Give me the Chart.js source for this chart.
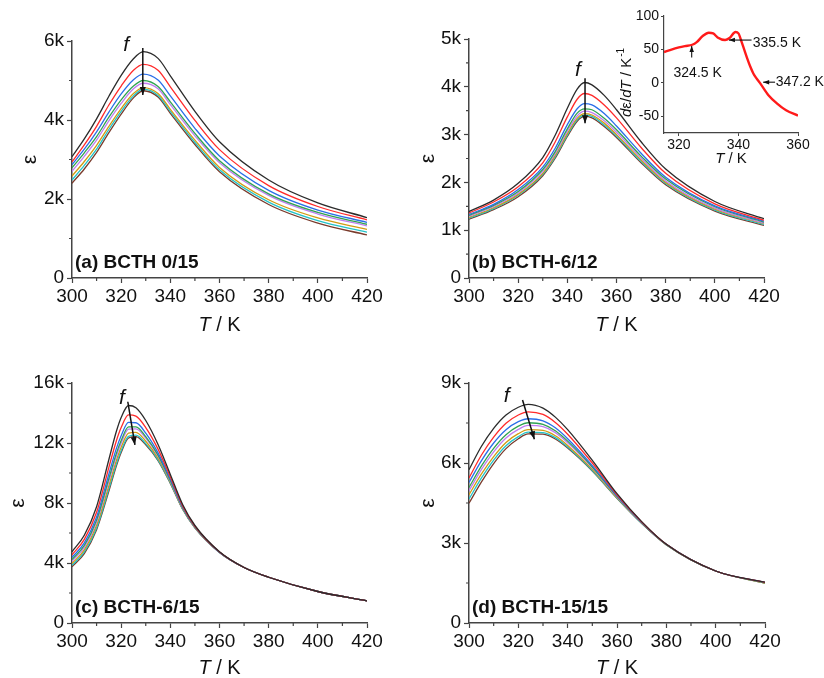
<!DOCTYPE html>
<html>
<head>
<meta charset="utf-8">
<script src="https://cdn.jsdelivr.net/npm/chart.js@4.4.1/dist/chart.umd.min.js"></script>
<style>
  body { margin: 0; background: #fff; }
  canvas { position: absolute; }
</style>
</head>
<body>
<canvas id="pa" width="412" height="339" style="left:0;top:0"></canvas>
<canvas id="pb" width="412" height="339" style="left:412px;top:0"></canvas>
<canvas id="pc" width="412" height="339" style="left:0;top:339px"></canvas>
<canvas id="pd" width="412" height="339" style="left:412px;top:339px"></canvas>
<canvas id="pi" width="234" height="175" style="left:590px;top:0"></canvas>
<script>
// eps values in thousands, one array per measuring frequency (black = lowest f, brown = highest f)

// (a) BCTH 0/15
const tA = [300, 305, 310, 315, 320, 325, 329, 335, 340, 350, 360, 380, 400, 420];
const aBlack  = [3.07, 3.52, 4.03, 4.60, 5.13, 5.55, 5.73, 5.56, 5.12, 4.22, 3.45, 2.48, 1.90, 1.53];
const aRed    = [2.94, 3.37, 3.84, 4.38, 4.86, 5.26, 5.41, 5.26, 4.84, 3.99, 3.25, 2.34, 1.81, 1.47];
const aBlue   = [2.87, 3.26, 3.70, 4.20, 4.66, 5.02, 5.16, 5.01, 4.61, 3.79, 3.09, 2.22, 1.72, 1.41];
const aGreen  = [2.79, 3.17, 3.58, 4.07, 4.51, 4.86, 5.00, 4.85, 4.46, 3.66, 2.97, 2.13, 1.66, 1.36];
const aViolet = [2.70, 3.08, 3.49, 3.98, 4.42, 4.79, 4.93, 4.79, 4.39, 3.60, 2.92, 2.09, 1.62, 1.32];
const aOrange = [2.58, 2.95, 3.36, 3.84, 4.29, 4.67, 4.82, 4.67, 4.27, 3.49, 2.80, 1.98, 1.52, 1.23];
const aCyan   = [2.48, 2.85, 3.26, 3.76, 4.22, 4.61, 4.78, 4.62, 4.22, 3.43, 2.74, 1.92, 1.45, 1.16];
const aBrown  = [2.40, 2.76, 3.18, 3.68, 4.15, 4.56, 4.74, 4.58, 4.17, 3.38, 2.69, 1.86, 1.39, 1.09];

// (b) BCTH-6/12
const tB = [300, 310, 320, 330, 335, 340, 344, 347, 350, 355, 360, 370, 380, 400, 420];
const bBlack  = [1.39, 1.63, 1.98, 2.52, 2.98, 3.55, 3.95, 4.09, 4.04, 3.82, 3.52, 2.85, 2.28, 1.60, 1.24];
const bRed    = [1.36, 1.59, 1.91, 2.41, 2.84, 3.37, 3.74, 3.86, 3.82, 3.62, 3.35, 2.73, 2.19, 1.55, 1.21];
const bBlue   = [1.33, 1.54, 1.85, 2.32, 2.71, 3.21, 3.54, 3.65, 3.62, 3.44, 3.18, 2.61, 2.11, 1.51, 1.19];
const bGreen  = [1.31, 1.52, 1.81, 2.27, 2.64, 3.12, 3.45, 3.54, 3.52, 3.34, 3.10, 2.55, 2.07, 1.49, 1.17];
const bViolet = [1.29, 1.50, 1.78, 2.23, 2.60, 3.07, 3.39, 3.49, 3.46, 3.29, 3.05, 2.51, 2.03, 1.46, 1.15];
const bOrange = [1.27, 1.47, 1.75, 2.19, 2.56, 3.02, 3.34, 3.44, 3.41, 3.24, 3.00, 2.47, 2.00, 1.44, 1.14];
const bCyan   = [1.25, 1.45, 1.73, 2.17, 2.53, 2.99, 3.31, 3.41, 3.38, 3.20, 2.97, 2.44, 1.98, 1.42, 1.12];
const bBrown  = [1.23, 1.43, 1.70, 2.14, 2.50, 2.96, 3.28, 3.38, 3.35, 3.17, 2.94, 2.41, 1.95, 1.40, 1.10];

// (c) BCTH-6/15
const tC = [300, 305, 310, 315, 318, 320, 323, 326, 330, 335, 340, 345, 350, 360, 370, 380, 400, 420];
const cBlack  = [4.75, 5.85, 7.75, 10.90, 12.75, 13.70, 14.50, 14.35, 13.50, 11.90, 9.90, 7.90, 6.50, 4.75, 3.70, 3.05, 2.10, 1.48];
const cRed    = [4.55, 5.57, 7.38, 10.38, 12.12, 13.03, 13.87, 13.79, 13.03, 11.59, 9.73, 7.81, 6.45, 4.74, 3.70, 3.05, 2.10, 1.48];
const cBlue   = [4.37, 5.34, 7.07, 9.93, 11.61, 12.49, 13.37, 13.35, 12.66, 11.34, 9.59, 7.73, 6.42, 4.72, 3.70, 3.05, 2.10, 1.48];
const cGreen  = [4.23, 5.17, 6.86, 9.63, 11.28, 12.16, 13.07, 13.08, 12.43, 11.19, 9.51, 7.69, 6.39, 4.72, 3.70, 3.05, 2.10, 1.48];
const cViolet = [4.11, 5.04, 6.71, 9.44, 11.10, 11.99, 12.92, 12.94, 12.32, 11.12, 9.47, 7.67, 6.38, 4.71, 3.70, 3.05, 2.10, 1.48];
const cOrange = [3.97, 4.87, 6.51, 9.16, 10.81, 11.71, 12.66, 12.71, 12.12, 10.99, 9.40, 7.63, 6.36, 4.71, 3.70, 3.05, 2.10, 1.48];
const cCyan   = [3.85, 4.74, 6.34, 8.94, 10.58, 11.48, 12.44, 12.52, 11.96, 10.88, 9.34, 7.60, 6.35, 4.70, 3.70, 3.05, 2.10, 1.48];
const cBrown  = [3.75, 4.63, 6.22, 8.79, 10.44, 11.36, 12.33, 12.42, 11.88, 10.83, 9.31, 7.58, 6.34, 4.70, 3.70, 3.05, 2.10, 1.48];

// (d) BCTH-15/15
const tD = [300, 305, 310, 315, 320, 324, 330, 335, 340, 350, 360, 370, 380, 400, 420];
const dBlack  = [5.75, 6.62, 7.30, 7.80, 8.09, 8.20, 8.06, 7.72, 7.25, 6.10, 4.85, 3.80, 2.95, 1.95, 1.53];
const dRed    = [5.44, 6.29, 6.97, 7.49, 7.80, 7.92, 7.82, 7.52, 7.08, 6.00, 4.81, 3.79, 2.95, 1.95, 1.52];
const dBlue   = [5.27, 6.08, 6.75, 7.25, 7.55, 7.66, 7.58, 7.32, 6.91, 5.90, 4.77, 3.77, 2.95, 1.95, 1.52];
const dGreen  = [5.08, 5.88, 6.55, 7.06, 7.38, 7.51, 7.45, 7.21, 6.82, 5.85, 4.75, 3.76, 2.94, 1.95, 1.51];
const dViolet = [4.96, 5.75, 6.42, 6.94, 7.26, 7.41, 7.36, 7.14, 6.76, 5.82, 4.73, 3.76, 2.94, 1.95, 1.51];
const dOrange = [4.81, 5.58, 6.24, 6.77, 7.10, 7.25, 7.22, 7.02, 6.66, 5.76, 4.70, 3.75, 2.94, 1.95, 1.50];
const dCyan   = [4.65, 5.43, 6.11, 6.65, 6.99, 7.16, 7.14, 6.95, 6.60, 5.72, 4.69, 3.74, 2.94, 1.95, 1.50];
const dBrown  = [4.49, 5.28, 5.98, 6.54, 6.91, 7.09, 7.08, 6.90, 6.56, 5.70, 4.68, 3.74, 2.94, 1.95, 1.50];

// inset: d(eps)/dT of BCTH-6/12
const insetT = [315, 317, 320, 322, 324.5, 326, 328, 330, 331.5, 333, 335.5, 337, 339, 340, 341, 342, 343, 344, 345, 346, 347.2, 350, 353, 356, 360];
const insetD = [46, 49, 53, 55, 57, 61, 70, 75, 74, 68, 64, 67, 76, 74, 62, 49, 36, 24, 14, 7, 0, -18, -31, -41, -49];

const lineColors = ['#2b2b2b', '#ff2a2a', '#2a6ee8', '#2fa352', '#c07ef0', '#d19b14', '#22c3c8', '#7a3b2c'];
const FONT = '"Liberation Sans", Arial, sans-serif';

function arrow(ctx, x1, y1, x2, y2, head) {
    ctx.beginPath();
    ctx.moveTo(x1, y1);
    ctx.lineTo(x2, y2);
    ctx.stroke();
    const a = Math.atan2(y2 - y1, x2 - x1);
    const c = Math.cos(a), s = Math.sin(a);
    ctx.beginPath();
    ctx.moveTo(x2, y2);
    ctx.lineTo(x2 - head * c + head * 0.38 * s, y2 - head * s - head * 0.38 * c);
    ctx.lineTo(x2 - head * c - head * 0.38 * s, y2 - head * s + head * 0.38 * c);
    ctx.closePath();
    ctx.fill();
}

// draws titles, minor ticks, panel labels and arrows
const decor = {
    id: 'decor',
    afterDraw(chart, args, o) {
        if (!o || !o.kind) return;
        const ctx = chart.ctx, ca = chart.chartArea;
        const sx = chart.scales.x, sy = chart.scales.y;
        const px = v => sx.getPixelForValue(v);
        const py = v => sy.getPixelForValue(v);
        ctx.save();
        ctx.fillStyle = '#111';
        ctx.strokeStyle = '#111';
        ctx.textBaseline = 'middle';

        if (o.kind === 'main') {
            /* minor ticks */
            ctx.strokeStyle = '#444';
            ctx.lineWidth = 1.2;
            ctx.beginPath();
            for (let v = 310; v < 420; v += 20) {
                ctx.moveTo(px(v), ca.bottom);
                ctx.lineTo(px(v), ca.bottom + 3);
            }
            for (let v = o.yStep / 2; v < o.yMax; v += o.yStep) {
                ctx.moveTo(ca.left, py(v));
                ctx.lineTo(ca.left - 3, py(v));
            }
            ctx.stroke();

            /* x title: T / K */
            ctx.fillStyle = '#111';
            ctx.font = 'italic 20px ' + FONT;
            const w1 = ctx.measureText('T').width;
            ctx.font = '20px ' + FONT;
            const w2 = ctx.measureText(' / K').width;
            const x0 = (ca.left + ca.right) / 2 - (w1 + w2) / 2;
            const ty = ca.bottom + o.xGap;
            ctx.textAlign = 'left';
            ctx.font = 'italic 20px ' + FONT;
            ctx.fillText('T', x0, ty);
            ctx.font = '20px ' + FONT;
            ctx.fillText(' / K', x0 + w1, ty);

            /* y title: epsilon */
            ctx.save();
            ctx.translate(ca.left - o.epsGap, (ca.top + ca.bottom) / 2);
            ctx.rotate(-Math.PI / 2);
            ctx.textAlign = 'center';
            ctx.font = '21px ' + FONT;
            ctx.fillText('ε', 0, 0);
            ctx.restore();

            /* panel label */
            ctx.textAlign = 'left';
            ctx.textBaseline = 'alphabetic';
            ctx.font = 'bold 19px ' + FONT;
            ctx.fillText(o.label, ca.left + 3, ca.bottom - 10);

            /* f arrow */
            ctx.textAlign = 'center';
            ctx.textBaseline = 'middle';
            ctx.font = 'italic 21px ' + FONT;
            ctx.fillText('f', px(o.f[0]), py(o.f[1]));
            ctx.lineWidth = 1.5;
            ctx.strokeStyle = '#111';
            arrow(ctx, px(o.arr[0]), py(o.arr[1]), px(o.arr[2]), py(o.arr[3]), 8);
        } else {
            /* inset titles */
            ctx.textAlign = 'left';
            ctx.font = 'italic 15px ' + FONT;
            const wT = ctx.measureText('T').width;
            ctx.font = '15px ' + FONT;
            const wK = ctx.measureText(' / K').width;
            const xs = (ca.left + ca.right) / 2 - (wT + wK) / 2;
            ctx.font = 'italic 15px ' + FONT;
            ctx.fillText('T', xs, ca.bottom + 26);
            ctx.font = '15px ' + FONT;
            ctx.fillText(' / K', xs + wT, ca.bottom + 26);

            const parts = [['d', 'italic 15px '], ['ε', '15px '], ['/', '15px '], ['d', 'italic 15px '],
                           ['T', 'italic 15px '], [' / K', '15px ']];
            let total = 0;
            parts.forEach(p => { ctx.font = p[1] + FONT; total += ctx.measureText(p[0]).width; });
            ctx.font = '10px ' + FONT;
            const wSup = ctx.measureText('-1').width;
            total += wSup;
            ctx.save();
            ctx.translate(ca.left - 37, ca.top + 67);
            ctx.rotate(-Math.PI / 2);
            let cx = -total / 2;
            parts.forEach(p => {
                ctx.font = p[1] + FONT;
                ctx.fillText(p[0], cx, 0);
                cx += ctx.measureText(p[0]).width;
            });
            ctx.font = '10px ' + FONT;
            ctx.fillText('-1', cx + 1, -6);
            ctx.restore();

            /* annotations */
            ctx.lineWidth = 1.1;
            ctx.font = '14px ' + FONT;
            arrow(ctx, px(324.3), py(38), px(324.3), py(55), 6);
            ctx.fillText('324.5 K', px(318.2), py(14));
            arrow(ctx, px(344.4), py(64), px(336.8), py(64), 6);
            ctx.fillText('335.5 K', px(344.8), py(60));
            arrow(ctx, px(352.3), py(1), px(348.3), py(1), 6);
            ctx.fillText('347.2 K', px(352.5), py(1));
        }
        ctx.restore();
    }
};
Chart.register(decor);

function lineSets(temps, seriesList) {
    return seriesList.map((vals, i) => ({
        data: vals.map((v, k) => ({ x: temps[k], y: v })),
        borderColor: lineColors[i],
        borderWidth: 1.3,
        pointRadius: 0,
        cubicInterpolationMode: 'monotone',
        fill: false
    }));
}

function makePanel(id, temps, seriesList, p) {
    new Chart(document.getElementById(id), {
        type: 'line',
        data: { datasets: lineSets(temps, seriesList) },
        options: {
            responsive: false,
            animation: false,
            layout: { padding: p.pad },
            plugins: {
                legend: { display: false },
                tooltip: { enabled: false },
                decor: {
                    kind: 'main', label: p.label, yStep: p.yStep, yMax: p.yMax,
                    xGap: p.xGap, epsGap: p.epsGap, f: p.f, arr: p.arr
                }
            },
            scales: {
                x: {
                    type: 'linear', min: 300, max: 420,
                    ticks: { stepSize: 20, maxRotation: 0, color: '#111', padding: 2, font: { family: FONT, size: 19 } },
                    grid: { drawOnChartArea: false, tickLength: 5, color: '#444', tickWidth: 1.2 },
                    border: { color: '#444', width: 1.5 },
                    afterFit: s => { s.height = p.xh; }
                },
                y: {
                    min: 0, max: p.yMax,
                    ticks: {
                        stepSize: p.yStep, color: '#111', padding: 3, font: { family: FONT, size: 19 },
                        callback: v => v === 0 ? '0' : v + 'k'
                    },
                    grid: { drawOnChartArea: false, tickLength: 5, color: '#444', tickWidth: 1.2 },
                    border: { color: '#444', width: 1.5 },
                    afterFit: s => { s.width = p.yw; }
                }
            }
        }
    });
}

makePanel('pa', tA, [aBlack, aRed, aBlue, aGreen, aViolet, aOrange, aCyan, aBrown], {
    pad: { left: 0, top: 41, right: 45, bottom: 0 }, yw: 72, xh: 61,
    yMax: 6, yStep: 2, label: '(a) BCTH 0/15', xGap: 47, epsGap: 42,
    f: [322, 5.9], arr: [328.8, 5.82, 328.8, 4.63]
});
makePanel('pb', tB, [bBlack, bRed, bBlue, bGreen, bViolet, bOrange, bCyan, bBrown], {
    pad: { left: 0, top: 39, right: 60, bottom: 0 }, yw: 57, xh: 61,
    yMax: 5, yStep: 1, label: '(b) BCTH-6/12', xGap: 47, epsGap: 41,
    f: [344.3, 4.35], arr: [347.2, 4.18, 347.2, 3.24]
});
makePanel('pc', tC, [cBlack, cRed, cBlue, cGreen, cViolet, cOrange, cCyan, cBrown], {
    pad: { left: 0, top: 44, right: 45, bottom: 0 }, yw: 72, xh: 55,
    yMax: 16, yStep: 4, label: '(c) BCTH-6/15', xGap: 45, epsGap: 54,
    f: [320.3, 15.0], arr: [322.7, 14.75, 325.6, 11.87]
});
makePanel('pd', tD, [dBlack, dRed, dBlue, dGreen, dViolet, dOrange, dCyan, dBrown], {
    pad: { left: 0, top: 44, right: 59, bottom: 0 }, yw: 57, xh: 55,
    yMax: 9, yStep: 3, label: '(d) BCTH-15/15', xGap: 45, epsGap: 41,
    f: [315.3, 8.49], arr: [321.7, 8.36, 326.5, 6.89]
});

/* inset */
new Chart(document.getElementById('pi'), {
    type: 'line',
    data: {
        datasets: [{
            data: insetT.map((t, k) => ({ x: t, y: insetD[k] })),
            borderColor: '#ff1a1a',
            borderWidth: 2.4,
            pointRadius: 0,
            cubicInterpolationMode: 'monotone',
            fill: false
        }]
    },
    options: {
        responsive: false,
        animation: false,
        layout: { padding: { left: 0, top: 16, right: 26, bottom: 0 } },
        plugins: { legend: { display: false }, tooltip: { enabled: false }, decor: { kind: 'inset' } },
        scales: {
            x: {
                type: 'linear', min: 315, max: 360,
                afterBuildTicks: s => { s.ticks = [320, 340, 360].map(v => ({ value: v })); },
                ticks: { maxRotation: 0, color: '#111', padding: 1, font: { family: FONT, size: 14 } },
                grid: { drawOnChartArea: false, tickLength: 3, color: '#444' },
                border: { color: '#444', width: 1.2 },
                afterFit: s => { s.height = 42; }
            },
            y: {
                min: -75, max: 100,
                afterBuildTicks: s => { s.ticks = [-50, 0, 50, 100].map(v => ({ value: v })); },
                ticks: { color: '#111', padding: 2, font: { family: FONT, size: 14 } },
                grid: { drawOnChartArea: false, tickLength: 3, color: '#444' },
                border: { color: '#444', width: 1.2 },
                afterFit: s => { s.width = 74; }
            }
        }
    }
});
</script>
</body>
</html>
